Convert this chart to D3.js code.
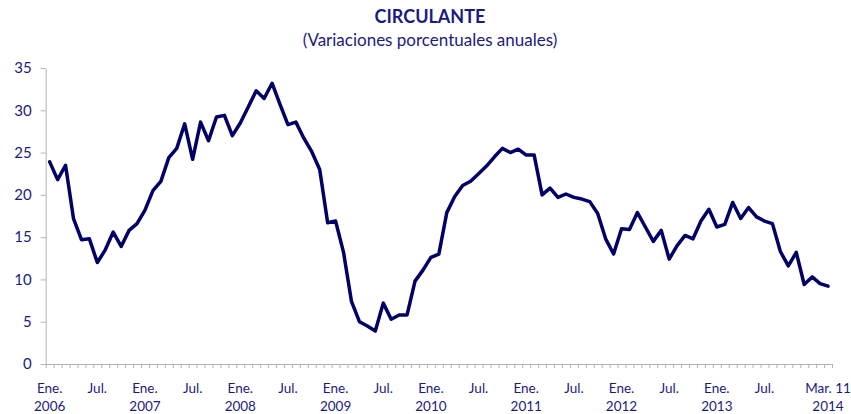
<!DOCTYPE html>
<html>
<head>
<meta charset="utf-8">
<script src="https://cdn.jsdelivr.net/npm/d3@7"></script>
<style>
  html, body { margin: 0; padding: 0; background: #ffffff; }
  svg { display: block; font-family: Lato, "Open Sans", sans-serif; }
</style>
</head>
<body>
<svg id="chart" width="851" height="414"></svg>
<script>
// ---- Data (annual % change of currency in circulation, monthly Jan 2006 – Mar 11 2014) ----
const title = "CIRCULANTE";
const subtitle = "(Variaciones porcentuales anuales)";

const values2006 = [23.9, 21.8, 23.5, 17.2, 14.7, 14.8, 12.0, 13.5, 15.6, 13.9, 15.8, 16.6];
const values2007 = [18.2, 20.5, 21.6, 24.4, 25.5, 28.4, 24.2, 28.6, 26.4, 29.2, 29.4, 27.0];
const values2008 = [28.5, 30.4, 32.3, 31.4, 33.2, 30.7, 28.3, 28.6, 26.7, 25.1, 23.0, 16.7];
const values2009 = [16.9, 13.2, 7.4, 5.0, 4.5, 3.9, 7.2, 5.3, 5.8, 5.8, 9.8, 11.1];
const values2010 = [12.6, 13.0, 17.9, 19.8, 21.1, 21.6, 22.5, 23.4, 24.5, 25.5, 25.0, 25.4];
const values2011 = [24.7, 24.7, 20.0, 20.8, 19.7, 20.1, 19.7, 19.5, 19.2, 17.8, 14.8, 13.0];
const values2012 = [16.0, 15.9, 17.9, 16.2, 14.5, 15.8, 12.4, 14.0, 15.2, 14.8, 16.9, 18.3];
const values2013 = [16.2, 16.5, 19.1, 17.2, 18.5, 17.4, 16.9, 16.6, 13.3, 11.6, 13.2, 9.4];
const values2014 = [10.3, 9.5, 9.2];

const series = [].concat(values2006, values2007, values2008, values2009, values2010,
                         values2011, values2012, values2013, values2014);

// category labels (two lines) at selected months
const labelMonths = ["Ene.", "Jul.", "Ene.", "Jul.", "Ene.", "Jul.", "Ene.", "Jul.", "Ene.", "Jul.",
                     "Ene.", "Jul.", "Ene.", "Jul.", "Ene.", "Jul.", "Mar. 11"];
const labelYears  = ["2006", "", "2007", "", "2008", "", "2009", "", "2010", "",
                     "2011", "", "2012", "", "2013", "", "2014"];
const labelIndex  = [0, 6, 12, 18, 24, 30, 36, 42, 48, 54, 60, 66, 72, 78, 84, 90, 98];

const yTicks = [0, 5, 10, 15, 20, 25, 30, 35];

// ---- Layout ----
const svg = d3.select("#chart");
const plotLeft = 45.7, plotRight = 832, plotTop = 68, plotBottom = 364;
const textColor = "#1b1b7d";
const axisColor = "#b3b3b3";
const lineColor = "#000066";

const idx = d3.range(series.length);
const x = d3.scaleBand().domain(idx).range([plotLeft, plotRight]).paddingInner(0).paddingOuter(0);
const xEdge = d3.scaleLinear().domain([0, series.length]).range([plotLeft, plotRight]);
const y = d3.scaleLinear().domain([0, 35]).range([plotBottom, plotTop]);

// Title
svg.append("text").attr("x", 430).attr("y", 23).attr("text-anchor", "middle")
  .attr("font-size", 18).attr("font-weight", 700).attr("fill", textColor).text(title);
svg.append("text").attr("x", 430).attr("y", 46).attr("text-anchor", "middle")
  .attr("font-size", 17).attr("fill", textColor).text(subtitle);

// Y axis
const yAxis = svg.append("g").attr("transform", `translate(${plotLeft},0)`)
  .call(d3.axisLeft(y).tickValues(yTicks).tickSize(5).tickPadding(9).tickSizeOuter(0));
yAxis.select(".domain").attr("stroke", axisColor);
yAxis.selectAll(".tick line").attr("stroke", axisColor);
yAxis.selectAll(".tick text").attr("fill", textColor).attr("font-size", 15)
  .attr("font-family", "Lato, 'Open Sans', sans-serif");

// X axis (ticks at category boundaries)
const xAxis = svg.append("g").attr("transform", `translate(0,${plotBottom})`)
  .call(d3.axisBottom(xEdge).tickValues(d3.range(series.length + 1)).tickSize(4)
        .tickFormat("").tickSizeOuter(0));
xAxis.select(".domain").attr("stroke", axisColor);
xAxis.selectAll(".tick line").attr("stroke", axisColor);

// X labels
const lab = svg.append("g").attr("fill", textColor).attr("font-size", 13.5)
  .attr("text-anchor", "middle");
labelIndex.forEach((k, i) => {
  const cx = x(k) + x.bandwidth() / 2;
  lab.append("text").attr("x", cx).attr("y", 393).text(labelMonths[i]);
  if (labelYears[i]) lab.append("text").attr("x", cx).attr("y", 411).text(labelYears[i]);
});

// Line
const line = d3.line()
  .x((d, i) => x(i) + x.bandwidth() / 2)
  .y(d => y(d));
svg.append("path").datum(series)
  .attr("fill", "none").attr("stroke", lineColor).attr("stroke-width", 3.5)
  .attr("stroke-linejoin", "round").attr("stroke-linecap", "round")
  .attr("d", line);
</script>
</body>
</html>
